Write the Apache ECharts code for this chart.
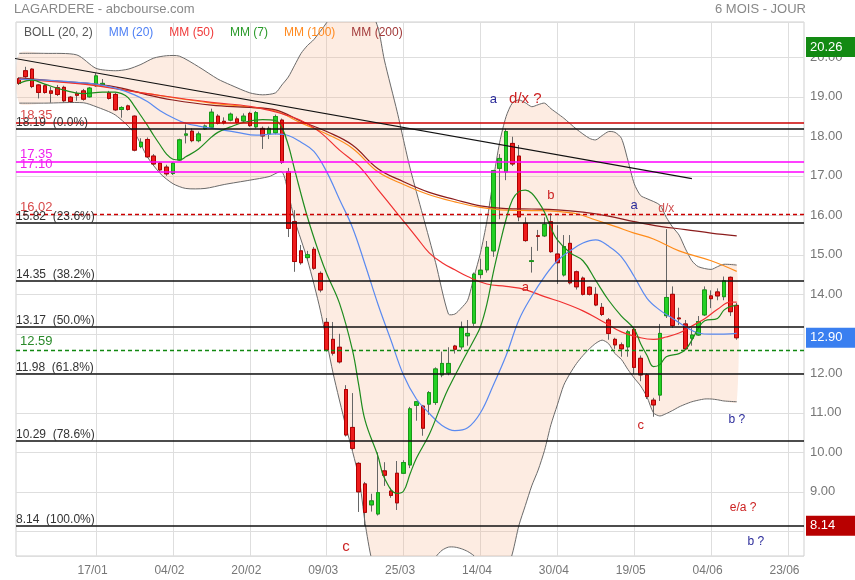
<!DOCTYPE html>
<html><head><meta charset="utf-8">
<script src="https://cdn.jsdelivr.net/npm/echarts@6/dist/echarts.min.js"></script>
<style>html,body{margin:0;padding:0;background:#fff}#c{width:855px;height:580px}</style>
</head><body><div id="c"></div>
<script>
// ---------- DATA ----------
const dates = [
'31/12','02/01','03/01','06/01','07/01','08/01','09/01','10/01','13/01','14/01','15/01','16/01',
'17/01','20/01','21/01','22/01','23/01','24/01','27/01','28/01','29/01','30/01','31/01','03/02',
'04/02','05/02','06/02','07/02','10/02','11/02','12/02','13/02','14/02','17/02','18/02','19/02',
'20/02','21/02','24/02','25/02','26/02','27/02','28/02','02/03','03/03','04/03','05/03','06/03',
'09/03','10/03','11/03','12/03','13/03','16/03','17/03','18/03','19/03','20/03','23/03','24/03',
'25/03','26/03','27/03','30/03','31/03','01/04','02/04','03/04','06/04','07/04','08/04','09/04',
'14/04','15/04','16/04','17/04','20/04','21/04','22/04','23/04','24/04','27/04','28/04','29/04',
'30/04','04/05','05/05','06/05','07/05','08/05','11/05','12/05','13/05','14/05','15/05','18/05',
'19/05','20/05','21/05','22/05','25/05','26/05','27/05','28/05','29/05','01/06','02/06','03/06',
'04/06','05/06','08/06','09/06','10/06','11/06','12/06','15/06','16/06','17/06','18/06','22/06',
'23/06','24/06','25/06'];
const tickLabels = ['17/01','04/02','20/02','09/03','25/03','14/04','30/04','19/05','04/06','23/06'];

const open = [19.46,19.66,19.70,19.30,19.28,19.15,19.23,19.24,18.99,19.08,19.15,19.00,19.28,19.27,19.10,19.06,18.68,18.77,18.51,17.74,
17.92,17.50,17.32,17.22,17.06,17.40,18.03,18.13,17.89,18.19,18.23,18.51,18.38,18.41,18.44,18.39,18.58,18.24,18.20,18.06,
18.09,18.41,17.10,15.84,15.10,14.93,15.14,14.53,13.29,12.86,12.66,11.59,10.63,9.72,9.20,8.67,8.44,9.53,9.02,9.47,
9.47,9.68,11.19,11.17,11.22,11.26,11.96,12.01,12.69,12.67,12.95,13.27,14.50,14.62,15.10,17.19,17.10,17.82,17.50,15.80,
14.83,15.48,15.48,15.84,15.02,14.49,15.29,14.57,14.41,14.18,14.00,13.67,13.35,12.86,12.72,12.67,13.11,12.38,11.96,11.32,
11.45,13.46,14.00,13.40,13.25,12.89,12.97,13.48,13.96,14.06,13.94,14.43,13.72];
const high = [19.50,19.76,19.72,19.32,19.32,19.25,19.30,19.28,19.02,19.14,19.20,19.25,19.60,19.45,19.15,19.10,18.76,18.80,18.53,17.95,
17.97,17.55,17.35,17.28,17.35,17.94,18.30,18.20,18.12,18.30,18.70,18.56,18.48,18.60,18.50,18.58,18.62,18.64,18.25,18.25,
18.55,18.45,17.20,16.13,15.25,15.10,15.20,14.58,13.40,13.30,13.00,11.70,11.50,9.75,9.25,8.95,10.00,9.75,9.10,9.78,
9.80,11.15,11.30,11.20,11.55,12.15,12.55,12.66,12.72,13.31,13.35,14.55,14.90,15.35,17.15,17.55,18.19,17.99,17.78,15.95,
15.20,15.63,15.95,16.05,15.75,15.50,15.50,14.60,14.45,14.20,14.18,13.78,13.40,12.90,12.78,13.10,13.15,12.45,12.00,11.38,
13.25,15.65,14.20,13.66,13.35,13.15,13.45,14.20,14.10,14.15,14.45,14.45,13.78];
const low = [19.30,19.48,19.22,18.96,19.08,18.85,19.02,18.86,18.85,18.90,18.90,18.98,19.25,19.25,18.93,18.64,18.47,18.65,17.62,17.70,
17.45,17.25,17.10,17.00,17.02,17.38,17.82,17.85,17.85,18.16,18.20,18.30,18.30,18.38,18.32,18.35,18.24,18.20,17.68,17.93,
18.05,17.30,15.45,14.57,14.75,14.85,14.62,14.05,12.55,12.45,12.25,10.40,10.05,8.49,8.14,8.50,8.40,9.15,8.85,8.54,
9.45,9.60,10.80,10.42,10.95,11.20,11.90,11.95,12.50,12.60,12.70,13.20,14.40,14.55,14.95,15.90,16.89,17.25,15.85,15.33,
14.55,15.10,15.45,15.05,14.26,14.45,14.25,14.12,13.97,13.97,13.70,13.45,12.85,12.62,12.42,12.42,11.98,11.80,11.35,10.90,
11.30,13.40,13.15,13.22,12.60,12.70,12.95,13.45,13.65,13.85,13.85,13.45,12.85];
const close = [19.34,19.51,19.26,19.11,19.11,19.09,19.06,18.90,18.88,19.04,18.94,19.22,19.53,19.34,18.96,18.67,18.73,18.68,17.65,17.85,
17.48,17.30,17.15,17.05,17.32,17.91,18.06,17.89,18.06,18.26,18.61,18.33,18.34,18.56,18.35,18.51,18.27,18.60,18.01,18.20,
18.50,17.34,15.67,14.83,14.80,15.00,14.66,14.11,12.59,12.51,12.29,10.44,10.10,9.00,8.48,8.77,8.98,9.42,8.91,8.72,
9.74,11.10,11.28,10.61,11.51,12.11,12.25,12.25,12.61,13.16,13.01,14.51,14.61,15.19,17.13,17.44,18.12,17.30,15.96,15.36,
14.85,15.47,15.77,15.08,14.80,15.21,14.29,14.19,14.00,14.00,13.73,13.49,13.01,12.72,12.62,13.05,12.15,11.96,11.41,11.20,
13.01,13.92,13.21,13.38,12.62,12.97,13.31,14.11,13.89,13.96,14.34,13.56,12.90];

const mm7 = [[0,19.34],[2,19.42],[4,19.32],[7,19.17],[10,19.08],[13,19.12],[15,19.12],[16,19.08],[17,18.98],[18,18.76],[19,18.52],[20,18.28],[21,18.02],[22,17.78],[23,17.55],[24,17.42],[25,17.40],[26,17.48],[28,17.68],[30,17.98],[31,18.10],[33,18.24],[35,18.35],[38,18.42],[40,18.40],[41,18.22],[42,17.78],[43,17.15],[45,15.95],[47,14.95],[48,14.52],[50,13.77],[52,12.60],[53,11.70],[54,10.80],[56,9.90],[57,9.35],[59,8.96],[60,9.02],[61,9.45],[62,9.85],[64,10.45],[66,11.25],[67,11.62],[69,12.25],[71,12.85],[72,13.18],[73,13.75],[74,14.55],[75,15.25],[76,15.90],[77,16.40],[78,16.60],[79,16.64],[80,16.56],[81,16.35],[82,16.08],[83,15.68],[84,15.38],[86,15.05],[88,14.85],[90,14.35],[92,13.85],[94,13.45],[96,13.12],[97,12.75],[98,12.45],[99,12.17],[100,12.22],[101,12.42],[103,12.50],[104,12.60],[105,12.84],[106,13.14],[107,13.33],[109,13.39],[110,13.60],[111,13.69],[112,13.72]];
const mm20 = [[0,19.45],[4,19.42],[8,19.38],[12,19.32],[15,19.22],[18,19.05],[20,18.88],[22,18.65],[24,18.47],[26,18.33],[28,18.26],[31,18.18],[34,18.10],[37,18.03],[40,18.06],[42,18.02],[44,17.85],[46,17.62],[48,17.10],[50,16.40],[52,15.70],[54,14.75],[56,13.75],[58,12.85],[60,11.95],[62,11.35],[64,10.99],[66,10.68],[68,10.55],[70,10.62],[72,11.00],[74,11.70],[76,12.45],[78,13.35],[80,13.95],[82,14.45],[84,14.85],[86,15.10],[88,15.30],[90,15.38],[92,15.22],[94,14.95],[96,14.45],[98,13.90],[100,13.60],[102,13.39],[104,13.18],[106,13.02],[108,12.99],[110,12.99],[112,13.01]];
const mm50 = [[0,19.45],[10,19.32],[20,19.08],[30,18.86],[36,18.76],[40,18.62],[42,18.52],[44,18.40],[47,18.10],[50,17.65],[53,17.25],[56,16.65],[59,16.05],[62,15.45],[64,15.05],[66,14.80],[68,14.62],[70,14.45],[73,14.26],[76,14.20],[79,14.12],[82,13.94],[85,13.78],[88,13.58],[91,13.32],[94,13.05],[97,12.90],[99,12.86],[101,12.92],[103,13.02],[105,13.20],[107,13.38],[109,13.62],[111,13.80],[112,13.80]];
const mm100 = [[0,19.44],[10,19.33],[20,19.08],[30,18.84],[36,18.74],[40,18.64],[44,18.34],[48,18.06],[52,17.70],[56,17.10],[60,16.78],[64,16.52],[68,16.34],[72,16.20],[76,16.13],[80,16.12],[84,16.10],[87,16.04],[90,15.88],[93,15.72],[96,15.55],[99,15.40],[103,15.10],[108,14.85],[112,14.58]];
const mm200 = [[0,19.48],[6,19.40],[12,19.32],[16,19.22],[20,19.05],[24,18.92],[30,18.79],[36,18.73],[40,18.67],[44,18.38],[48,18.12],[52,17.78],[56,17.18],[60,16.85],[64,16.58],[68,16.40],[72,16.24],[76,16.17],[80,16.16],[84,16.14],[88,16.08],[92,15.98],[96,15.84],[100,15.72],[104,15.64],[108,15.55],[112,15.48]];
const bollUpper = [[0,20.10],[4,20.10],[9,20.06],[12,19.72],[15,19.66],[17,19.70],[19,19.82],[21,19.98],[23,20.04],[25,20.03],[28,19.76],[31,19.45],[33,19.30],[36,19.10],[38,19.05],[40,19.10],[41,19.30],[42,19.50],[43,19.80],[44,20.10],[45,20.30],[46,20.45],[48,20.88],[50,21.40],[52,21.70],[54,21.50],[56,20.75],[57,19.93],[59,18.62],[60,17.90],[61,17.20],[63,16.00],[65,14.80],[67,13.50],[68,13.50],[69,13.65],[70,13.85],[71,14.45],[72,15.05],[73,15.85],[74,16.90],[75,17.85],[76,18.50],[77,18.85],[78,18.92],[79,18.85],[80,18.75],[81,18.80],[82,18.84],[83,18.70],[84,18.58],[85,18.46],[87,18.18],[89,17.95],[90,17.91],[91,18.02],[92,18.12],[93,18.10],[94,17.95],[95,17.40],[96,16.80],[97,16.50],[98,16.42],[100,16.26],[101,15.95],[102,15.70],[103,15.50],[104,15.15],[105,14.85],[106,14.70],[108,14.63],[109,14.70],[110,14.76],[112,14.74]];
const bollLower = [[0,18.84],[4,18.84],[10,18.85],[12,18.75],[15,18.54],[18,18.08],[20,17.48],[22,17.06],[24,16.80],[26,16.68],[29,16.68],[32,16.78],[36,16.89],[39,16.98],[41,17.10],[42,16.56],[43,15.88],[45,14.87],[47,13.60],[49,12.00],[51,10.65],[53,9.38],[54,8.20],[55,7.30],[56,6.90],[58,6.40],[60,6.30],[62,6.60],[64,7.10],[65,7.35],[66,7.52],[67,7.60],[68,7.60],[69,7.56],[70,7.49],[71,7.38],[72,7.20],[74,6.90],[76,7.00],[77,7.45],[78,8.15],[79,8.65],[80,9.15],[81,9.55],[82,10.05],[83,10.70],[84,11.20],[85,11.70],[86,12.00],[87,12.25],[88,12.45],[89,12.62],[90,12.76],[91,12.84],[92,12.75],[93,12.50],[94,12.35],[95,12.10],[96,11.88],[97,11.68],[98,11.40],[99,11.00],[100,10.92],[101,10.98],[102,11.06],[103,11.15],[104,11.22],[105,11.28],[106,11.32],[107,11.35],[108,11.35],[109,11.33],[110,11.30],[112,11.28]];
const trendLine = [[-1,19.98],[105,16.93]];

const fibLevels = [18.19, 15.82, 14.35, 13.17, 11.98, 10.29, 8.14];
const fibRatios = ['0.0%','23.6%','38.2%','50.0%','61.8%','78.6%','100.0%'];
const redLevels = [18.35];
const magentaLevels = [17.35, 17.10];
const redDashedLevels = [16.02];
const greenDashedLevels = [12.59];
const lastClose = 12.90, periodHigh = 20.26, periodLow = 8.14;

const notes = [
  {text:'a', i:74.4, v:18.93, kind:'blue', size:13},
  {text:'d/x ?', i:78.6, v:18.96, kind:'red', size:15},
  {text:'b', i:82.6, v:16.51, kind:'red', size:13},
  {text:'a', i:79.4, v:14.18, kind:'red', size:13},
  {text:'a', i:96.4, v:16.26, kind:'blue', size:13},
  {text:'d/x', i:101.2, v:16.18, kind:'redlight', size:12},
  {text:'c', i:50.5, v:7.61, kind:'red', size:15},
  {text:'c', i:97.4, v:10.67, kind:'red', size:13},
  {text:'b ?', i:112.2, v:10.83, kind:'blue', size:12},
  {text:'e/a ?', i:112.9, v:8.59, kind:'red', size:12},
  {text:'b ?', i:115.4, v:7.73, kind:'blue', size:12}
];

// ---------- STYLE ----------
const FONT = 'Liberation Sans, Arial, sans-serif';
const noteColors = {blue:'#2b2b9a', red:'#cc2222', redlight:'#d05050'};
const C = {mm7:'#1e8c1e', mm20:'#5a8af0', mm50:'#f03030', mm100:'#ff8c1a', mm200:'#8b1c1c'};

const candleData = open.map((o,i)=>[o, close[i], low[i], high[i]]);
const bodyData = open.map((o,i)=>[o, close[i], Math.min(o,close[i]), Math.max(o,close[i])]);

const levelLines = [];
fibLevels.forEach((v,k)=>levelLines.push({yAxis:v,
  lineStyle:{color:'#111',width:1.5,type:'solid'},
  label:{show:true,position:'insideStartTop',formatter:v.toFixed(2)+'  ('+fibRatios[k]+')',color:'#333',fontSize:12,distance:[0,0]}}));
redLevels.forEach(v=>levelLines.push({yAxis:v,lineStyle:{color:'#cc0000',width:1.5,type:'solid'},
  label:{show:true,position:'insideStartTop',formatter:v.toFixed(2),color:'#d84a4a',fontSize:13,distance:[4,1]}}));
magentaLevels.forEach(v=>levelLines.push({yAxis:v,lineStyle:{color:'#ff00ff',width:1.5,type:'solid'},
  label:{show:true,position:'insideStartTop',formatter:v.toFixed(2),color:'#ee22ee',fontSize:13,distance:[4,1]}}));
redDashedLevels.forEach(v=>levelLines.push({yAxis:v,lineStyle:{color:'#cc0000',width:1.3,type:[4,3]},
  label:{show:true,position:'insideStartTop',formatter:v.toFixed(2),color:'#d84a4a',fontSize:13,distance:[4,1]}}));
greenDashedLevels.forEach(v=>levelLines.push({yAxis:v,lineStyle:{color:'#118811',width:1.3,type:[4,3]},
  label:{show:true,position:'insideStartTop',formatter:v.toFixed(2),color:'#2a8a2a',fontSize:13,distance:[4,2]}}));
function boxLine(v, bg){
  return {yAxis:v, lineStyle:{color:'rgba(0,0,0,0)', width:1, opacity:1},
    label:{show:true,position:'end',formatter:v.toFixed(2),color:'#fff',backgroundColor:bg,opacity:1,
      fontSize:13,lineHeight:13,padding:[3,20,4,4],distance:2}};
}
levelLines.push(boxLine(periodHigh,'#138a13'));
levelLines.push(boxLine(lastClose,'#3a7ff0'));
levelLines.push(boxLine(periodLow,'#b80000'));

const notePoints = notes.map(n=>({name:n.text, coord:[n.i, n.v],
  label:{show:true,position:'inside',formatter:'{b}',color:noteColors[n.kind],fontSize:n.size,fontFamily:FONT}}));

function maSeries(name, data, color){
  return {name, type:'line', data, showSymbol:false, smooth:0.4, z:4,
    lineStyle:{color, width:1.2}, itemStyle:{color}, silent:true};
}

const chart = echarts.init(document.getElementById('c'), null, {renderer:'canvas'});
chart.setOption({
  animation:false,
  backgroundColor:'#fff',
  textStyle:{fontFamily:FONT},
  title:[
    {text:'LAGARDERE - abcbourse.com', left:14, top:3, padding:0, textStyle:{fontSize:13,color:'#888',fontWeight:'normal',fontFamily:FONT}},
    {text:'6 MOIS - JOUR', right:49, top:3, padding:0, textStyle:{fontSize:13,color:'#888',fontWeight:'normal',fontFamily:FONT}}
  ],
  legend:{left:14, top:22, itemWidth:0, itemHeight:0, itemGap:11, selectedMode:false,
    textStyle:{fontSize:12,fontFamily:FONT},
    data:[
      {name:'BOLL (20, 2)', icon:'none', textStyle:{color:'#555'}},
      {name:'MM (20)', icon:'none', textStyle:{color:'#4d7ff5'}},
      {name:'MM (50)', icon:'none', textStyle:{color:'#f03a3a'}},
      {name:'MM (7)', icon:'none', textStyle:{color:'#2a9a2a'}},
      {name:'MM (100)', icon:'none', textStyle:{color:'#ff8a20'}},
      {name:'MM (200)', icon:'none', textStyle:{color:'#a23a3a'}}
    ]},
  grid:{left:16, right:51, top:22, bottom:24, show:true, borderColor:'#cfcfcf', borderWidth:1, outerBoundsMode:'none'},
  xAxis:{type:'category', data:dates, boundaryGap:true,
    axisLine:{show:false}, axisTick:{show:false},
    axisLabel:{interval:(i,v)=>tickLabels.includes(v), color:'#777', fontSize:12, margin:9, padding:[0,7,0,0], fontFamily:FONT},
    splitLine:{show:true, interval:(i,v)=>tickLabels.includes(v), alignWithLabel:true, lineStyle:{color:'#dedede',width:1}}},
  yAxis:{type:'value', position:'right', min:7.375, max:20.894, minInterval:1, maxInterval:1, splitNumber:13, scale:true,
    axisLine:{show:false}, axisTick:{show:false},
    axisLabel:{formatter:v=>v.toFixed(2), color:'#777', fontSize:13, margin:6, showMinLabel:false, showMaxLabel:false, fontFamily:FONT},
    splitLine:{show:true, lineStyle:{color:'#dedede',width:1}}},
  series:[
    {name:'BOLL (20, 2)', type:'custom', clip:true, z:1, silent:true, data:[[0,15]],
      itemStyle:{color:'#777'},
      renderItem:function(params, api){
        const up = bollUpper.map(p=>api.coord([p[0],p[1]]));
        const lo = bollLower.map(p=>api.coord([p[0],p[1]]));
        return {type:'group', children:[
          {type:'polygon', shape:{points:up.concat(lo.slice().reverse()), smooth:0.25}, style:{fill:'rgba(247,180,140,0.25)', stroke:null}},
          {type:'polyline', shape:{points:up, smooth:0.25}, style:{stroke:'#6a6a6a', lineWidth:1, fill:null}},
          {type:'polyline', shape:{points:lo, smooth:0.25}, style:{stroke:'#6a6a6a', lineWidth:1, fill:null}}
        ]};
      }},
    {name:'wick', type:'candlestick', data:candleData, barWidth:4, z:2, silent:true,
      itemStyle:{color:'#24d024', color0:'#ee1c1c', borderColor:'#666', borderColor0:'#666', borderWidth:1}},
    {name:'body', type:'candlestick', data:bodyData, barWidth:4, z:3, silent:true,
      itemStyle:{color:'#24d024', color0:'#ee1c1c', borderColor:'#179a17', borderColor0:'#b00000', borderWidth:1}},
    maSeries('MM (100)', mm100, C.mm100),
    maSeries('MM (200)', mm200, C.mm200),
    maSeries('MM (50)', mm50, C.mm50),
    maSeries('MM (20)', mm20, C.mm20),
    maSeries('MM (7)', mm7, C.mm7),
    {name:'trend', type:'line', data:trendLine, showSymbol:false, clip:true, z:5, silent:true,
      lineStyle:{color:'#111', width:1.2},
      markLine:{silent:true, symbol:['none','none'], animation:false, data:levelLines},
      markPoint:{silent:true, symbol:'circle', symbolSize:1, itemStyle:{color:'rgba(0,0,0,0)'}, data:notePoints}}
  ]
});
</script></body></html>
